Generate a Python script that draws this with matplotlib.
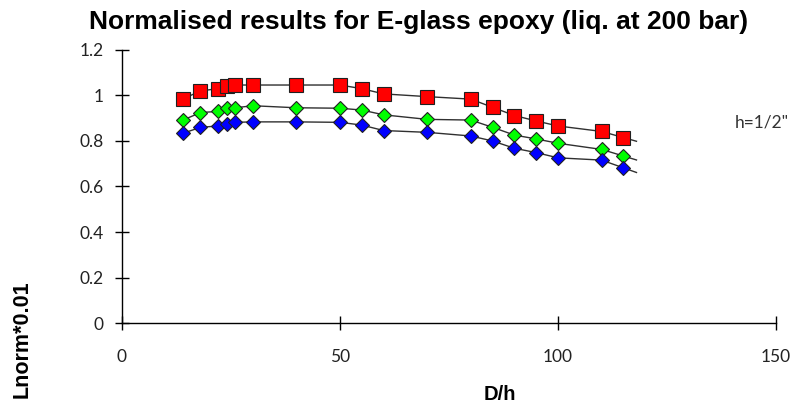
import matplotlib
matplotlib.use('Agg')
import matplotlib.pyplot as plt
import numpy as np

# D/h values (same for the three series)
d_over_h = [14, 18, 22, 24, 26, 30, 40, 50, 55, 60, 70, 80, 85, 90, 95, 100, 110, 115]
# Normalised results
red_vals = [0.985, 1.02, 1.03, 1.04, 1.046, 1.046, 1.046, 1.046, 1.03, 1.007,
            0.995, 0.984, 0.948, 0.912, 0.888, 0.866, 0.842, 0.815]
green_vals = [0.892, 0.925, 0.93, 0.944, 0.946, 0.955, 0.946, 0.944, 0.936, 0.915,
              0.895, 0.892, 0.86, 0.826, 0.809, 0.79, 0.763, 0.734]
blue_vals = [0.834, 0.86, 0.866, 0.875, 0.882, 0.884, 0.884, 0.882, 0.87, 0.846,
             0.838, 0.822, 0.8, 0.768, 0.749, 0.726, 0.716, 0.682]
x_end = 118

fig = plt.figure(figsize=(8.09, 4.08), dpi=100)
ax = fig.add_axes([0.1508, 0.2083, 0.8084, 0.6692])

series = [
    (red_vals, 's', '#ff0000', 10),
    (green_vals, 'D', '#00ff00', 7.5),
    (blue_vals, 'D', '#0000ff', 7.5),
]
for vals, marker, color, ms in series:
    x = np.array(d_over_h, dtype=float)
    y = np.array(vals)
    # line runs a little past the last point
    slope = (y[-1] - y[-2]) / (x[-1] - x[-2])
    xl = np.append(x, x_end)
    yl = np.append(y, y[-1] + slope * (x_end - x[-1]))
    ax.plot(xl, yl, color='#303030', lw=1.0, zorder=2)
    ax.plot(x, y, ls='none', marker=marker, ms=ms, mfc=color, mec='#202020',
            mew=0.8, zorder=3)

ax.set_xlim(0, 150)
ax.set_ylim(0, 1.2)
ax.set_xticks([0, 50, 100, 150])
ax.set_yticks(np.arange(0, 1.21, 0.2))
ax.set_yticklabels(['0', '0.2', '0.4', '0.6', '0.8', '1', '1.2'])
for s in ['top', 'right']:
    ax.spines[s].set_visible(False)
for s in ['left', 'bottom']:
    ax.spines[s].set_linewidth(1.0)
ax.tick_params(direction='inout', length=10, width=1.0, labelsize=12.5,
               pad=8)
ax.tick_params(axis='x', pad=14)
for lab in ax.get_xticklabels() + ax.get_yticklabels():
    lab.set_family('Lato')
    lab.set_color('#222222')

fig.text(0.518, 0.945, 'Normalised results for E-glass epoxy (liq. at 200 bar)',
         ha='center', va='center', fontsize=19, fontweight='bold',
         family='Liberation Sans')
fig.text(0.618, 0.034, 'D/h', ha='center', va='center', fontsize=14.5,
         fontweight='bold', family='Liberation Sans')
fig.text(0.027, 0.169, 'Lnorm*0.01', ha='center', va='center', rotation=90,
         fontsize=15.5, fontweight='bold', family='Liberation Sans')
fig.text(0.908, 0.70, 'h=1/2"', ha='left', va='center', fontsize=12.5,
         family='Lato', color='#333333')

fig.savefig('out.png', dpi=100)
